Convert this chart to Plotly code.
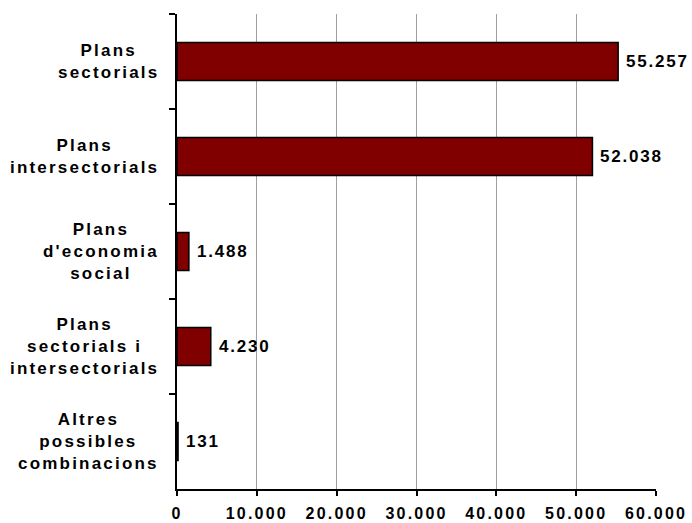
import plotly.graph_objects as go

# Plans de formació per tipus de pla
categories = [
    "Plans<br>sectorials",
    "Plans<br>intersectorials",
    "Plans<br>d'economia<br>social",
    "Plans<br>sectorials i<br>intersectorials",
    "Altres<br>possibles<br>combinacions",
]
values = [55257, 52038, 1488, 4230, 131]
x_tick_values = [0, 10000, 20000, 30000, 40000, 50000, 60000]
x_tick_labels = ["0", "10.000", "20.000", "30.000", "40.000", "50.000", "60.000"]

FONT = "Liberation Sans, Arial, sans-serif"
BAR_COLOR = "#800000"


def spaced(text, px):
    return f'<span style="letter-spacing:{px}px">{text}</span>'


def fmt(v):
    return f"{v:,}".replace(",", ".")


fig = go.Figure()
fig.add_trace(go.Bar(
    x=values,
    y=categories,
    orientation="h",
    width=0.4,
    marker=dict(color=BAR_COLOR, line=dict(color="black", width=1.5)),
    hoverinfo="skip",
))

annotations = []
# category labels, centred line by line, left of the axis
for cat in categories:
    lines = cat.split("<br>")
    annotations.append(dict(
        x=0, xref="paper", y=cat, yref="y",
        xanchor="right", yanchor="middle", xshift=-16,
        text="<br>".join(spaced(l, 2.2) for l in lines),
        align="center", showarrow=False,
        font=dict(family=FONT, size=17, color="black", weight="bold"),
    ))
# value labels at the end of each bar
for cat, v in zip(categories, values):
    annotations.append(dict(
        x=v, xref="x", y=cat, yref="y",
        xanchor="left", yanchor="middle", xshift=6,
        text=spaced(fmt(v), 1.8),
        showarrow=False,
        font=dict(family=FONT, size=17, color="black", weight="bold"),
    ))

fig.update_layout(
    width=692, height=523,
    margin=dict(l=177, r=36, t=14, b=34, autoexpand=False),
    paper_bgcolor="white", plot_bgcolor="white",
    showlegend=False,
    bargap=0.6,
    annotations=annotations,
    xaxis=dict(
        range=[0, 60000],
        automargin=False,
        tickmode="array",
        tickvals=x_tick_values,
        ticktext=[spaced(t, 2.2) for t in x_tick_labels],
        ticks="outside", ticklen=5, tickwidth=1.5, tickcolor="black",
        showline=True, linecolor="black", linewidth=2,
        showgrid=True, gridcolor="#a0a0a0", gridwidth=1,
        zeroline=False,
        ticklabelstandoff=4,
        tickfont=dict(family=FONT, size=16, color="black", weight="bold"),
    ),
    xaxis2=dict(
        overlaying="x", anchor="y", side="bottom",
        range=[0, 60000],
        automargin=False,
        tickmode="array", tickvals=x_tick_values,
        ticks="inside", ticklen=5, tickwidth=1.5, tickcolor="black",
        showticklabels=False, showgrid=False, showline=False, zeroline=False,
    ),
    yaxis=dict(
        type="category",
        automargin=False,
        categoryorder="array", categoryarray=categories,
        autorange="reversed",
        tickson="boundaries",
        ticks="outside", ticklen=6, tickwidth=1.5, tickcolor="black",
        showticklabels=False,
        showline=True, linecolor="black", linewidth=2,
        showgrid=False, zeroline=False,
    ),
)

fig.write_html("out.html")
